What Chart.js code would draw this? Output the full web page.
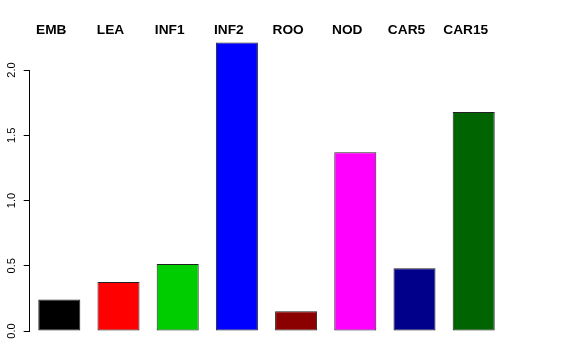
<!DOCTYPE html>
<html>
<head>
<meta charset="utf-8">
<script src="https://cdn.jsdelivr.net/npm/chart.js@4.4.1/dist/chart.umd.min.js"></script>
<style>
html,body{margin:0;padding:0;background:#fff;}
#wrap{width:576px;height:360px;position:relative;}
</style>
</head>
<body>
<div id="wrap"><canvas id="c" width="576" height="360"></canvas></div>
<script>
const categories = ["EMB","LEA","INF1","INF2","ROO","NOD","CAR5","CAR15"];
const values = [0.241, 0.376, 0.514, 2.210, 0.151, 1.370, 0.481, 1.679];
const barColors = ["#000000","#FF0000","#00CD00","#0000FF","#8B0000","#FF00FF","#00008B","#006400"];
const yTicks = [0, 0.5, 1.0, 1.5, 2.0];
const yTickLabels = ["0.0","0.5","1.0","1.5","2.0"];

const FONT = "'Liberation Sans', Arial, Helvetica, sans-serif";

const overlay = {
  id: 'overlay',
  afterDraw(chart) {
    const ctx = chart.ctx;
    const y = chart.scales.y;
    const x = chart.scales.x;
    const left = chart.chartArea.left;
    ctx.save();
    ctx.strokeStyle = '#000';
    ctx.lineWidth = 1;
    ctx.beginPath();
    const lx = Math.round(left) - 0.5;
    ctx.moveTo(lx, Math.round(y.getPixelForValue(yTicks[0])) + 0.5);
    ctx.lineTo(lx, Math.round(y.getPixelForValue(yTicks[yTicks.length-1])) + 0.5);
    ctx.stroke();
    ctx.fillStyle = '#000';
    ctx.font = '11px ' + FONT;
    ctx.textAlign = 'center';
    ctx.textBaseline = 'alphabetic';
    yTicks.forEach((v, i) => {
      const py = y.getPixelForValue(v);
      ctx.save();
      ctx.translate(14.5, py);
      ctx.rotate(-Math.PI / 2);
      ctx.fillText(yTickLabels[i], 0, 0);
      ctx.restore();
    });
    ctx.font = 'bold 13.7px ' + FONT;
    ctx.textAlign = 'center';
    categories.forEach((c, i) => {
      const px = x.getPixelForValue(i) - 8;
      ctx.fillText(c, px, 34);
    });
    ctx.restore();
  }
};

new Chart(document.getElementById('c'), {
  type: 'bar',
  data: {
    labels: categories,
    datasets: [{
      data: values,
      backgroundColor: barColors,
      borderColor: '#222',
      borderWidth: 1,
      borderSkipped: false,
      categoryPercentage: 1.0,
      barPercentage: 0.71
    }]
  },
  options: {
    responsive: false,
    animation: false,
    devicePixelRatio: 1,
    layout: { padding: { top: 37.4, right: 72.7, bottom: 29, left: 0 } },
    plugins: { legend: { display: false }, tooltip: { enabled: false } },
    scales: {
      x: { display: false, offset: true },
      y: {
        min: 0,
        max: 2.25,
        position: 'left',
        afterFit(s) { s.width = 29.7; },
        afterBuildTicks(s) { s.ticks = yTicks.map(v => ({ value: v })); },
        border: { display: false },
        grid: { drawOnChartArea: false, drawTicks: true, tickLength: 6, color: '#000', lineWidth: 1 },
        ticks: { display: false }
      }
    }
  },
  plugins: [overlay]
});
</script>
</body>
</html>
